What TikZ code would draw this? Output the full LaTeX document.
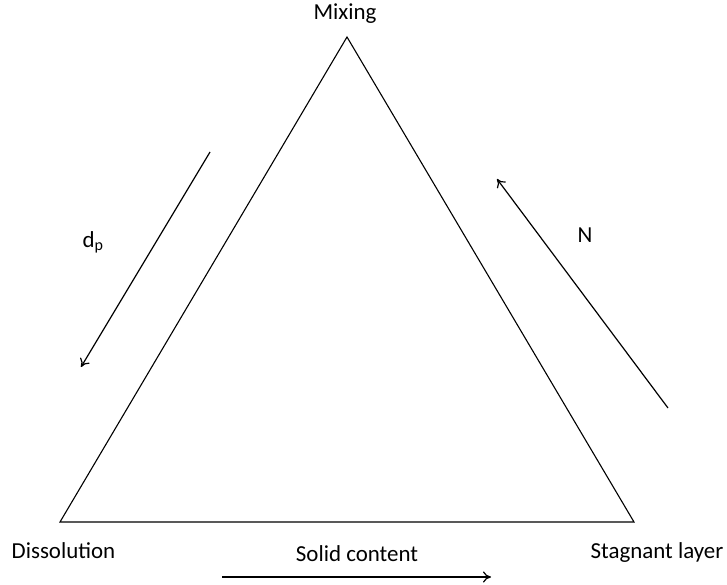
\documentclass[tikz,border=0pt]{standalone}
\usepackage{fontspec}
\setmainfont{Carlito}
\usetikzlibrary{arrows.meta}
\begin{document}
\begin{tikzpicture}[x=1bp,y=-1bp,
  edge/.style={line width=1.1bp,black},
  flow/.style={line width=1.2bp,black,-{To[length=8bp,width=11bp,line width=1.2bp]}},
  lbl/.style={font=\fontsize{23}{27}\selectfont,inner sep=0pt,anchor=base}]
\useasboundingbox (0,0) rectangle (727,585);
\coordinate (top) at (347,37);
\coordinate (bl) at (60,522);
\coordinate (br) at (634,522);
\draw[edge] (top) -- (bl) -- (br) -- cycle;
\coordinate (a1s) at (210,152);
\coordinate (a1e) at (81,367);
\coordinate (a2s) at (668,408);
\coordinate (a2e) at (497,179);
\coordinate (a3s) at (222,577);
\coordinate (a3e) at (491,577);
\draw[flow] (a1s) -- (a1e);
\draw[flow] (a2s) -- (a2e);
\draw[flow] (a3s) -- (a3e);
\node[lbl] (mix) at (345,20) {Mixing};
\node[lbl] (dis) at (63.5,558) {Dissolution};
\node[lbl] (stag) at (657,558) {Stagnant layer};
\node[lbl] (solid) at (357,561) {Solid content};
\node[lbl] (dp) at (93,247) {d\textsubscript{p}};
\node[lbl] (n) at (585,242) {N};
\end{tikzpicture}
\end{document}
